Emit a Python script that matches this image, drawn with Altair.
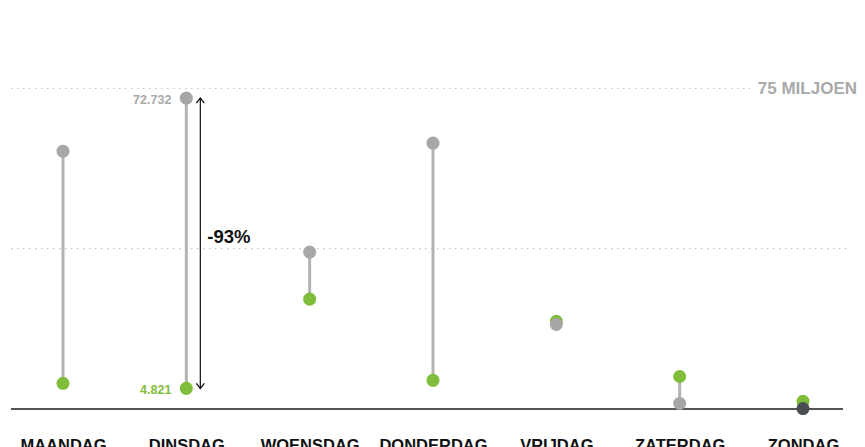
import altair as alt
import pandas as pd

days = ["MAANDAG", "DINSDAG", "WOENSDAG", "DONDERDAG", "VRIJDAG", "ZATERDAG", "ZONDAG"]
grey_vals = [60.3, 72.732, 36.7, 62.2, 19.8, 1.3, 0.1]
green_vals = [6.0, 4.821, 25.7, 6.7, 20.5, 7.6, 1.8]
grey_colors = ["#a7a7a7", "#a7a7a7", "#a7a7a7", "#a7a7a7", "#a7a7a7", "#a7a7a7", "#4b4d55"]
grid_vals = [75, 37.5]
top_label = "75 MILJOEN"
change_label = "-93%"

FONT = "Liberation Sans, Arial, sans-serif"
GREEN = "#7fbd3a"

df = pd.DataFrame({"day": days, "grey": grey_vals, "green": green_vals, "gcolor": grey_colors})

xs = alt.X("day:N", sort=days,
           scale=alt.Scale(type="point", range=[55, 795], padding=0),
           axis=alt.Axis(title=None, orient="bottom", domain=False, ticks=False, grid=False,
                         labelFont=FONT, labelFontSize=16.5, labelFontWeight="bold",
                         labelColor="#111", labelPadding=28, labelAngle=0))
yscale = alt.Scale(domain=[0, 93.8], nice=False, zero=False)

base = alt.Chart(df)

grid_top = alt.Chart(pd.DataFrame({"v": [grid_vals[0]]})).mark_rule(
    color="#c4c4c4", strokeWidth=1.2, strokeDash=[1.5, 4.5]).encode(
    y=alt.Y("v:Q", scale=yscale, axis=None), x=alt.value(3), x2=alt.value(742))
grid_mid = alt.Chart(pd.DataFrame({"v": [grid_vals[1]]})).mark_rule(
    color="#c4c4c4", strokeWidth=1.2, strokeDash=[1.5, 4.5]).encode(
    y=alt.Y("v:Q", scale=yscale, axis=None), x=alt.value(3), x2=alt.value(842))

top_text = alt.Chart(pd.DataFrame({"v": [grid_vals[0]], "t": [top_label]})).mark_text(
    align="right", baseline="middle", font=FONT, fontSize=17, fontWeight="bold", color="#a9a9a9", dy=1
).encode(y=alt.Y("v:Q", scale=yscale), x=alt.value(849), text="t:N")

baseline = alt.Chart(pd.DataFrame({"v": [0]})).mark_rule(color="#555555", strokeWidth=2).encode(
    y=alt.Y("v:Q", scale=yscale), x=alt.value(3), x2=alt.value(835))

stems = base.mark_rule(color="#b3b3b3", strokeWidth=3).encode(
    x=xs, y=alt.Y("grey:Q", scale=yscale), y2="green:Q")

green_pts = base.mark_circle(size=170, opacity=1, color=GREEN).encode(
    x=xs, y=alt.Y("green:Q", scale=yscale))
grey_pts = base.mark_circle(size=170, opacity=1).encode(
    x=xs, y=alt.Y("grey:Q", scale=yscale), color=alt.Color("gcolor:N", scale=None))

di = days.index("DINSDAG")
ann_df = pd.DataFrame({"day": [days[di]], "hi": [grey_vals[di]], "lo": [green_vals[di]],
                       "hi_t": ["72.732"], "lo_t": ["4.821"], "chg": [change_label], "mid": [40.5]})
ann = alt.Chart(ann_df)
hi_lab = ann.mark_text(align="right", baseline="middle", font=FONT, fontSize=12.5, fontWeight="bold",
                       color="#a9a9a9", dx=-15, dy=2).encode(x=xs, y=alt.Y("hi:Q", scale=yscale), text="hi_t:N")
lo_lab = ann.mark_text(align="right", baseline="middle", font=FONT, fontSize=12.5, fontWeight="bold",
                       color=GREEN, dx=-15, dy=2).encode(x=xs, y=alt.Y("lo:Q", scale=yscale), text="lo_t:N")
arrow = ann.mark_rule(color="#111", strokeWidth=1.2, xOffset=14).encode(
    x=xs, y=alt.Y("hi:Q", scale=yscale), y2="lo:Q")
head_up = ann.mark_point(shape="M-0.8,1 L0,0 L0.8,1", filled=False, size=100, color="#111",
                         strokeWidth=1.3, opacity=1, xOffset=14).encode(x=xs, y=alt.Y("hi:Q", scale=yscale))
head_dn = ann.mark_point(shape="M-0.8,-1 L0,0 L0.8,-1", filled=False, size=100, color="#111",
                         strokeWidth=1.3, opacity=1, xOffset=14).encode(x=xs, y=alt.Y("lo:Q", scale=yscale))
chg = ann.mark_text(align="left", baseline="middle", font=FONT, fontSize=18.5, fontWeight="bold",
                    color="#111", dx=21, dy=1).encode(x=xs, y=alt.Y("mid:Q", scale=yscale), text="chg:N")

chart = alt.layer(
    grid_top, grid_mid, top_text, baseline, stems, green_pts, grey_pts,
    hi_lab, lo_lab, arrow, head_up, head_dn, chg
).properties(width=849, height=401, padding=0).configure_view(stroke=None)

chart.save("out.html", embed_options={"renderer": "svg", "actions": False})
